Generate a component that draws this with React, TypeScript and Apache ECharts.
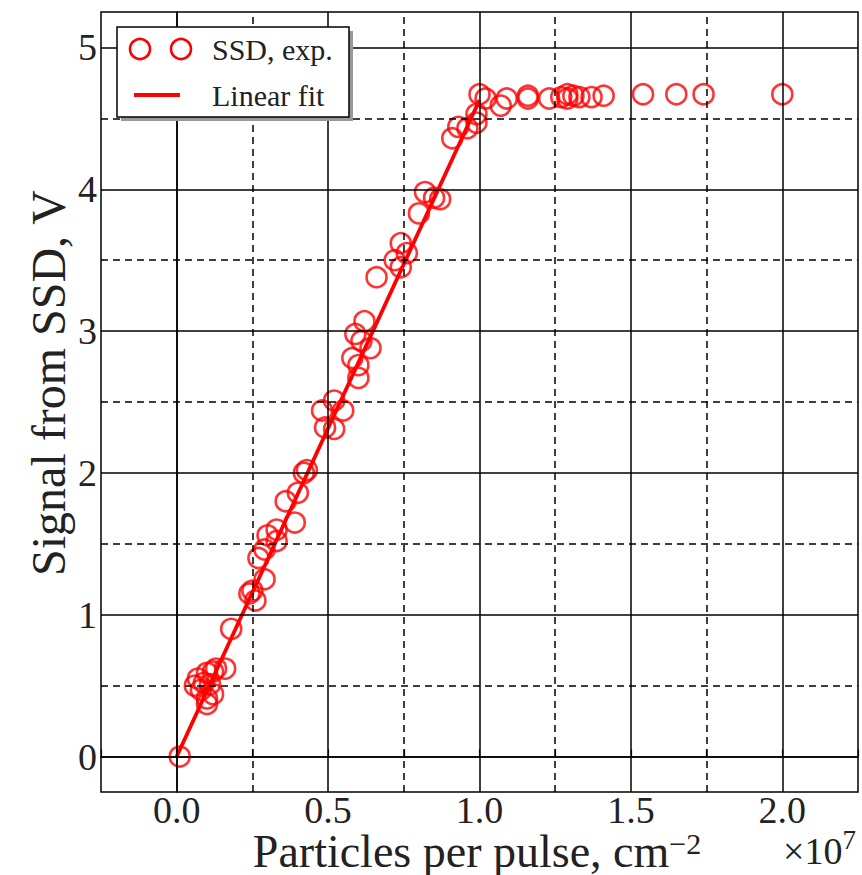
import React, { useEffect, useRef } from "react";
import * as echarts from "echarts";

// Axis ranges (x in units of 1e7 particles/cm^2)
const xMin = -0.25;
const xMax = 2.25;
const yMin = -0.25;
const yMax = 5.25;

// Grid lines
const majorX = [0, 0.5, 1.0, 1.5, 2.0];
const minorX = [0.25, 0.75, 1.25, 1.75];
const majorY = [0, 1, 2, 3, 4, 5];
const minorY = [0.5, 1.5, 2.5, 3.5, 4.5];

// Measured data: SSD, exp.
const ssdX = [
  0.01,
  0.06, 0.07, 0.09, 0.10, 0.12, 0.13, 0.16, 0.08, 0.10, 0.10, 0.12, 0.11,
  0.18,
  0.24, 0.26, 0.25, 0.29, 0.27, 0.29, 0.30, 0.33, 0.33, 0.36, 0.39, 0.40, 0.42, 0.43,
  0.48, 0.55, 0.52, 0.49, 0.52, 0.60, 0.58, 0.60, 0.64, 0.59, 0.61, 0.62,
  0.66, 0.72, 0.74, 0.74, 0.76, 0.80, 0.82, 0.85, 0.87,
  0.91, 0.93, 0.96, 0.99, 0.99, 1.00, 1.02, 1.07, 1.09, 1.16, 1.16,
  1.23, 1.27, 1.29, 1.29, 1.31, 1.33, 1.37, 1.41, 1.54, 1.65, 1.74, 2.00,
];
const ssdY = [
  0.00,
  0.50, 0.55, 0.52, 0.59, 0.60, 0.62, 0.62, 0.47, 0.41, 0.37, 0.44, 0.51,
  0.90,
  1.15, 1.10, 1.17, 1.25, 1.40, 1.46, 1.56, 1.60, 1.52, 1.80, 1.65, 1.86, 2.00, 2.02,
  2.44, 2.44, 2.51, 2.32, 2.31, 2.67, 2.81, 2.76, 2.88, 2.98, 2.93, 3.07,
  3.38, 3.50, 3.45, 3.62, 3.55, 3.83, 3.98, 3.94, 3.93,
  4.36, 4.44, 4.43, 4.47, 4.53, 4.67, 4.64, 4.59, 4.64, 4.66, 4.64,
  4.64, 4.65, 4.67, 4.64, 4.66, 4.65, 4.65, 4.66, 4.67, 4.67, 4.67, 4.67,
];

// Linear fit
const fitX = [0.0, 1.0];
const fitY = [0.0, 4.63];

const legendNames = ["SSD, exp.", "Linear fit"];
const xTitle = "Particles per pulse, cm";
const xTitleSup = "−2";
const yTitle = "Signal from SSD, V";
const xScaleBase = "×10";
const xScaleExp = "7";

const FONT = "Liberation Serif";
const RED = "#ff0000";

export default function App() {
  const ref = useRef<HTMLDivElement>(null);

  useEffect(() => {
    if (!ref.current) return;
    const chart = echarts.init(ref.current, null, { renderer: "svg" });

    const near = (v: number, step: number) =>
      Math.abs(v / step - Math.round(v / step)) < 1e-6;

    const solid = { type: "solid", color: "#000", width: 1.5 };
    const dashed = { type: [7, 5], color: "#000", width: 1.5 };

    const gridLines = [
      ...majorX.map((v) => ({ xAxis: v, lineStyle: solid })),
      ...minorX.map((v) => ({ xAxis: v, lineStyle: dashed })),
      ...majorY.map((v) => ({ yAxis: v, lineStyle: solid })),
      ...minorY.map((v) => ({ yAxis: v, lineStyle: dashed })),
    ];

    const option: any = {
      animation: false,
      backgroundColor: "#fff",
      grid: {
        left: 101,
        top: 12,
        width: 757,
        height: 780,
        outerBoundsMode: "none",
        containLabel: false,
        show: true,
        borderColor: "#000",
        borderWidth: 1.5,
        backgroundColor: "transparent",
      },
      xAxis: {
        type: "value",
        min: xMin,
        max: xMax,
        interval: 0.25,
        axisLine: { show: true, lineStyle: { color: "#000", width: 1.5 } },
        axisTick: { show: true, inside: true, length: 7, lineStyle: { color: "#000", width: 1.2 } },
        splitLine: { show: false },
        axisLabel: {
          margin: 3,
          fontFamily: FONT,
          fontSize: 38,
          lineHeight: 30,
          color: "#222",
          formatter: (v: number) =>
            v >= -1e-9 && v <= 2 + 1e-9 && near(v, 0.5) ? v.toFixed(1) : "",
        },
      },
      yAxis: {
        type: "value",
        min: yMin,
        max: yMax,
        interval: 0.25,
        axisLine: { show: true, lineStyle: { color: "#000", width: 1.5 } },
        axisTick: { show: false },
        splitLine: { show: false },
        axisLabel: {
          margin: 4,
          fontFamily: FONT,
          fontSize: 38,
          color: "#222",
          formatter: (v: number) =>
            v >= -1e-9 && v <= 5 + 1e-9 && near(v, 1) ? String(Math.round(v)) : "",
        },
      },
      series: [
        {
          name: "grid",
          type: "line",
          data: [],
          silent: true,
          z: 1,
          markLine: {
            silent: true,
            symbol: ["none", "none"],
            label: { show: false },
            emphasis: { disabled: true },
            data: gridLines,
          },
        },
        {
          name: legendNames[1],
          type: "line",
          data: fitX.map((x, i) => [x, fitY[i]]),
          showSymbol: false,
          symbol: "none",
          lineStyle: { color: RED, width: 3.8 },
          z: 3,
          silent: true,
        },
        {
          name: legendNames[0],
          type: "scatter",
          data: ssdX.map((x, i) => [x, ssdY[i]]),
          symbol: "circle",
          symbolSize: 20,
          itemStyle: { color: "rgba(0,0,0,0)", borderColor: RED, borderWidth: 2.6 },
          z: 4,
          silent: true,
        },
      ],
      graphic: [
        // x-axis title
        {
          type: "text",
          x: 477,
          y: 874,
          style: {
            text: `{t|${xTitle}}{s|${xTitleSup}}`,
            align: "center",
            verticalAlign: "bottom",
            rich: {
              t: { fontFamily: FONT, fontSize: 46, lineHeight: 45, fill: "#222", verticalAlign: "bottom" },
              s: {
                fontFamily: FONT,
                fontSize: 30,
                lineHeight: 29,
                fill: "#222",
                verticalAlign: "bottom",
                padding: [0, 0, 16, 0],
              },
            },
          },
          z: 12,
        },
        // y-axis title
        {
          type: "text",
          x: 48,
          y: 383,
          rotation: Math.PI / 2,
          style: {
            text: yTitle,
            fontFamily: FONT,
            fontSize: 48,
            fill: "#222",
            align: "center",
            verticalAlign: "middle",
          },
          z: 12,
        },
        // legend shadow
        { type: "rect", shape: { x: 121, y: 31, width: 232, height: 90 }, style: { fill: "#999" }, z: 10 },
        // legend box
        {
          type: "rect",
          shape: { x: 117, y: 27, width: 232, height: 90 },
          style: { fill: "#fff", stroke: "#000", lineWidth: 1.5 },
          z: 11,
        },
        { type: "circle", shape: { cx: 140, cy: 49, r: 10 }, style: { fill: "none", stroke: RED, lineWidth: 2.6 }, z: 12 },
        { type: "circle", shape: { cx: 181, cy: 49, r: 10 }, style: { fill: "none", stroke: RED, lineWidth: 2.6 }, z: 12 },
        { type: "line", shape: { x1: 134, y1: 95, x2: 180, y2: 95 }, style: { stroke: RED, lineWidth: 4 }, z: 12 },
        {
          type: "text",
          x: 212,
          y: 49,
          style: { text: legendNames[0], fontFamily: FONT, fontSize: 30, fill: "#222", verticalAlign: "middle" },
          z: 12,
        },
        {
          type: "text",
          x: 212,
          y: 95,
          style: { text: legendNames[1], fontFamily: FONT, fontSize: 30, fill: "#222", verticalAlign: "middle" },
          z: 12,
        },
        {
          type: "text",
          x: 783,
          y: 870,
          style: {
            text: `{b|${xScaleBase}}{e|${xScaleExp}}`,
            verticalAlign: "bottom",
            rich: {
              b: { fontFamily: FONT, fontSize: 38, fill: "#222", verticalAlign: "bottom" },
              e: { fontFamily: FONT, fontSize: 27, fill: "#222", verticalAlign: "bottom", padding: [0, 0, 17, 0] },
            },
          },
          z: 12,
        },
      ],
    };

    chart.setOption(option);
    return () => chart.dispose();
  }, []);

  return (
    <div
      ref={ref}
      style={{ position: "fixed", left: 0, top: 0, width: 862, height: 875, background: "#fff" }}
    />
  );
}
